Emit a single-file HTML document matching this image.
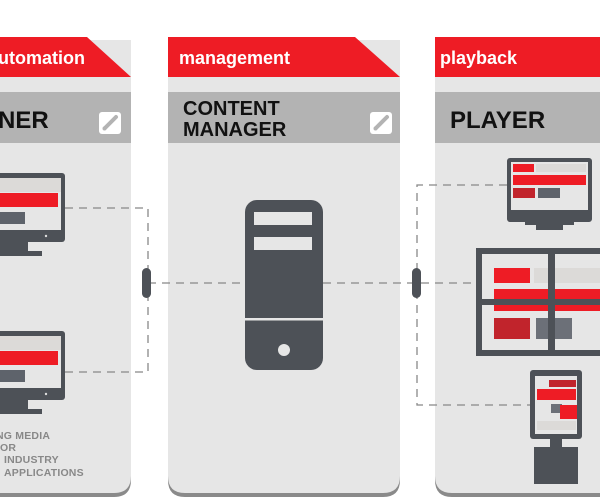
<!DOCTYPE html>
<html><head><style>
html,body{margin:0;padding:0;background:#fff;width:600px;height:500px;overflow:hidden}
svg{display:block}
text{font-family:"Liberation Sans",sans-serif}
</style></head><body>
<svg width="600" height="500" viewBox="0 0 600 500" xmlns="http://www.w3.org/2000/svg">
<defs>
<g id="pen"><rect x="0" y="0" width="22" height="22" rx="3" fill="#fff"/><line x1="6" y1="16" x2="17" y2="5" stroke="#b3b3b3" stroke-width="4" stroke-linecap="round"/><circle cx="5.5" cy="16.5" r="2" fill="#b3b3b3"/></g>
</defs>
<path d="M-20 40 H131 V480 Q131 497 114 497 H-20 Z" fill="#8a8a8a"/>
<path d="M-20 40 H131 V476 Q131 493 114 493 H-20 Z" fill="#e6e6e6"/>
<path d="M168 40 H400 V480 Q400 497 383 497 H185 Q168 497 168 480 Z" fill="#8a8a8a"/>
<path d="M168 40 H400 V476 Q400 493 383 493 H185 Q168 493 168 476 Z" fill="#e6e6e6"/>
<path d="M435 40 H620 V497 H452 Q435 497 435 480 Z" fill="#8a8a8a"/>
<path d="M435 40 H620 V493 H452 Q435 493 435 476 Z" fill="#e6e6e6"/>
<polygon points="-20,37 87,37 131,77 -20,77" fill="#ee1c25"/>
<polygon points="168,37 355,37 400,77 168,77" fill="#ee1c25"/>
<rect x="435" y="37" width="170" height="40" fill="#ee1c25"/>
<text x="-2" y="64" font-size="18" font-weight="bold" fill="#fff">utomation</text>
<text x="179" y="64" font-size="18" font-weight="bold" fill="#fff">management</text>
<text x="440" y="64" font-size="18" font-weight="bold" fill="#fff">playback</text>
<rect x="-20" y="92" width="151" height="51" fill="#b3b3b3"/>
<rect x="168" y="92" width="232" height="51" fill="#b3b3b3"/>
<rect x="435" y="92" width="170" height="51" fill="#b3b3b3"/>
<text x="-2" y="128" font-size="24" font-weight="bold" fill="#111">NER</text>
<text x="183" y="115" font-size="20" font-weight="bold" fill="#111">CONTENT</text>
<text x="183" y="136" font-size="20" font-weight="bold" fill="#111">MANAGER</text>
<text x="450" y="128" font-size="24" font-weight="bold" fill="#111">PLAYER</text>
<use href="#pen" x="99" y="112"/>
<use href="#pen" x="370" y="112"/>
<g stroke="#888" stroke-width="1.3" stroke-dasharray="8,6" fill="none">
<polyline points="65,208 148,208 148,372 65,372"/>
<line x1="148" y1="283" x2="245" y2="283"/>
<line x1="323" y1="283" x2="476" y2="283"/>
<polyline points="507,185 417,185 417,405 530,405"/>
</g>
<rect x="142" y="268" width="9" height="30" rx="4.5" fill="#4d5157"/>
<rect x="412" y="268" width="9" height="30" rx="4.5" fill="#4d5157"/>
<g>
<rect x="-20" y="173" width="85" height="69" rx="3" fill="#4d5157"/>
<rect x="-20" y="178" width="81" height="52" fill="#e6e6e6"/>
<rect x="-20" y="178" width="81" height="14" fill="#dcdad8"/>
<rect x="-20" y="193" width="78" height="14" fill="#ee1c25"/>
<rect x="-20" y="212" width="45" height="12" fill="#5e636b"/>
<circle cx="46" cy="236" r="1.2" fill="#ddd"/>
<rect x="0" y="242" width="28" height="10" fill="#4d5157"/>
<rect x="-20" y="251" width="62" height="5" fill="#4d5157"/>
</g>
<g transform="translate(0,158)">
<rect x="-20" y="173" width="85" height="69" rx="3" fill="#4d5157"/>
<rect x="-20" y="178" width="81" height="52" fill="#e6e6e6"/>
<rect x="-20" y="178" width="81" height="14" fill="#dcdad8"/>
<rect x="-20" y="193" width="78" height="14" fill="#ee1c25"/>
<rect x="-20" y="212" width="45" height="12" fill="#5e636b"/>
<circle cx="46" cy="236" r="1.2" fill="#ddd"/>
<rect x="0" y="242" width="28" height="10" fill="#4d5157"/>
<rect x="-20" y="251" width="62" height="5" fill="#4d5157"/>
</g>
<g font-size="10.5" font-weight="bold" fill="#888" letter-spacing="0.2">
<text x="-4" y="439">NG MEDIA</text>
<text x="0" y="451">OR</text>
<text x="4" y="463">INDUSTRY</text>
<text x="4" y="476">APPLICATIONS</text>
</g>
<rect x="245" y="200" width="78" height="170" rx="12" fill="#4d5157"/>
<rect x="254" y="212" width="58" height="13" fill="#e6e6e6"/>
<rect x="254" y="237" width="58" height="13" fill="#e6e6e6"/>
<rect x="245" y="318" width="78" height="2.5" fill="#e6e6e6"/>
<circle cx="284" cy="350" r="6" fill="#e6e6e6"/>
<rect x="507" y="158" width="85" height="64" rx="3" fill="#4d5157"/>
<rect x="511" y="162" width="77" height="48" fill="#e6e6e6"/>
<rect x="513" y="164" width="21" height="8" fill="#ee1c25"/>
<rect x="536" y="164" width="50" height="8" fill="#dcdad8"/>
<rect x="513" y="175" width="73" height="10" fill="#ee1c25"/>
<rect x="513" y="188" width="22" height="10" fill="#c1242c"/>
<rect x="538" y="188" width="22" height="10" fill="#5e636b"/>
<rect x="536" y="222" width="27" height="8" fill="#4d5157"/>
<rect x="525" y="221" width="49" height="4" fill="#4d5157"/>
<rect x="476" y="248" width="130" height="108" fill="#4d5157"/>
<rect x="482" y="254" width="66" height="45" fill="#e6e6e6"/>
<rect x="555" y="254" width="50" height="45" fill="#e6e6e6"/>
<rect x="482" y="305" width="66" height="45" fill="#e6e6e6"/>
<rect x="555" y="305" width="50" height="45" fill="#e6e6e6"/>
<rect x="534" y="268" width="71" height="15" fill="#dcdad8"/>
<rect x="494" y="268" width="36" height="15" fill="#ee1c25"/>
<rect x="494" y="289" width="111" height="10" fill="#ee1c25"/>
<rect x="494" y="305" width="111" height="6" fill="#ee1c25"/>
<rect x="494" y="318" width="36" height="21" fill="#c1242c"/>
<rect x="536" y="318" width="36" height="21" fill="#6c7078"/>
<rect x="548" y="254" width="7" height="96" fill="#4d5157"/>
<rect x="482" y="299" width="123" height="6" fill="#4d5157"/>
<rect x="530" y="370" width="52" height="69" rx="3" fill="#4d5157"/>
<rect x="535" y="376" width="42" height="58" fill="#e6e6e6"/>
<rect x="549" y="380" width="27" height="7" fill="#c1242c"/>
<rect x="537" y="389" width="39" height="11" fill="#ee1c25"/>
<rect x="551" y="404" width="11" height="9" fill="#6c7078"/>
<rect x="560" y="405" width="17" height="14" fill="#ee1c25"/>
<rect x="537" y="421" width="39" height="9" fill="#dcdad8"/>
<rect x="550" y="439" width="12" height="9" fill="#4d5157"/>
<rect x="534" y="447" width="44" height="37" fill="#4d5157"/>
</svg>
</body></html>
